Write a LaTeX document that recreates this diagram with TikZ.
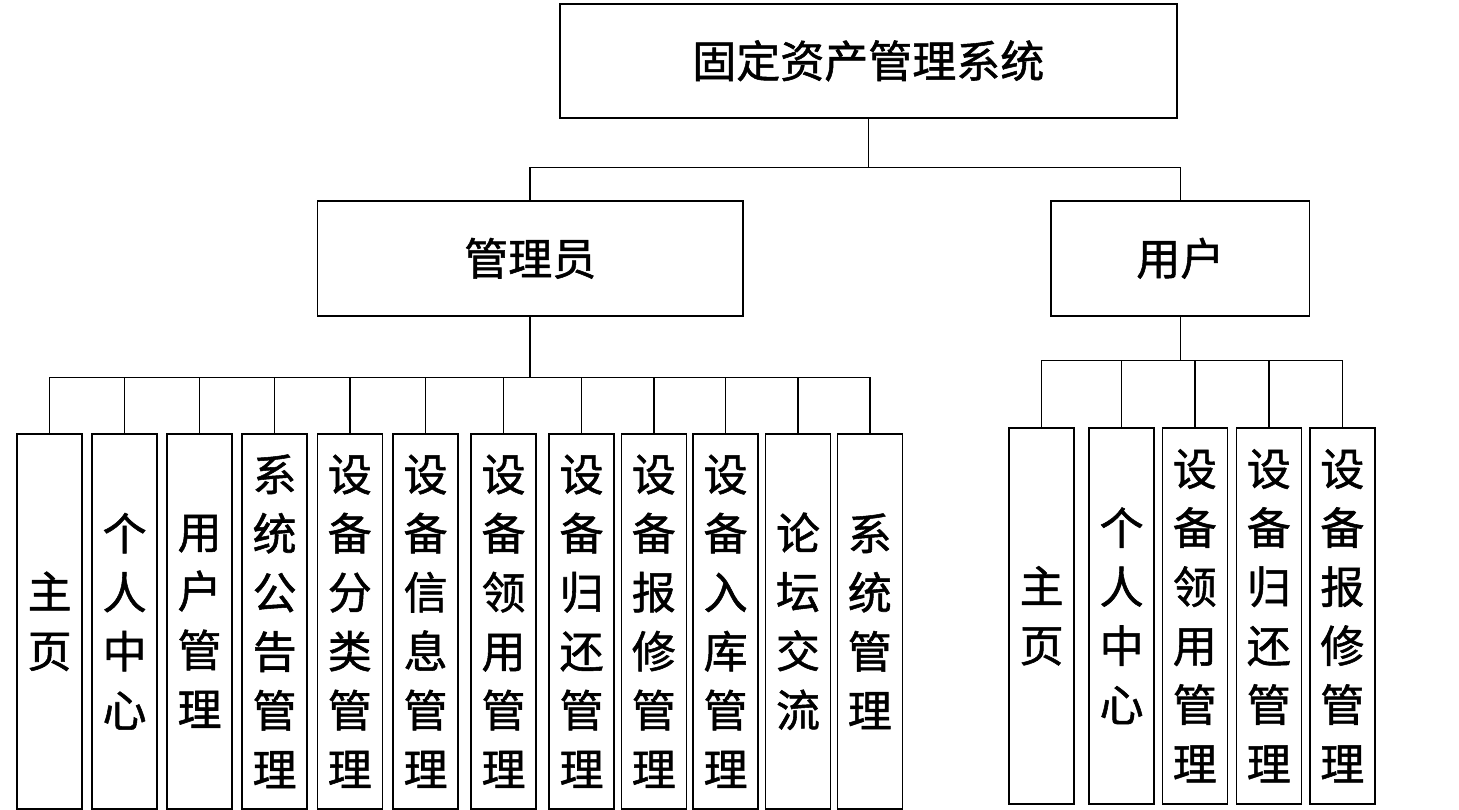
\documentclass[tikz,border=0pt]{standalone}
\usepackage{fontspec}
\newfontfamily\cjk[FakeBold=1.2]{Noto Sans CJK SC}
\tikzset{
  box/.style={draw=black, line width=1.6pt, inner sep=0pt, anchor=north west, fill=white},
  big/.style={font=\cjk\fontsize{44}{59}\selectfont},
  leaf/.style={box, big, minimum width=65pt, align=center},
  conn/.style={line width=1.6pt, black},
}
\newcommand{\aleaf}[4]{\node[leaf, minimum height=375pt] (#1) at (#2,433) {#4};}
\newcommand{\uleaf}[4]{\node[leaf, minimum height=376pt] (#1) at (#2,427) {#4};}
\begin{document}
\begin{tikzpicture}[x=1pt,y=-1pt]
\useasboundingbox (0,0) rectangle (1459,810);
\node[box, big, minimum width=617pt, minimum height=114pt] (top) at (559,3) {固定资产管理系统};
\node[box, big, minimum width=425.5pt, minimum height=115pt] (adm) at (316.7,200) {管理员};
\node[box, big, minimum width=258.5pt, minimum height=115pt] (usr) at (1050.3,200) {用户};

\aleaf{a1}{16.3}{}{主\\页}
\aleaf{a2}{91.3}{}{个\\人\\中\\心}
\aleaf{a3}{166.3}{}{用\\户\\管\\理}
\aleaf{a4}{241.3}{}{系\\统\\公\\告\\管\\理}
\aleaf{a5}{316.5}{}{设\\备\\分\\类\\管\\理}
\aleaf{a6}{392.3}{}{设\\备\\信\\息\\管\\理}
\aleaf{a7}{470.3}{}{设\\备\\领\\用\\管\\理}
\aleaf{a8}{548.3}{}{设\\备\\归\\还\\管\\理}
\aleaf{a9}{620.5}{}{设\\备\\报\\修\\管\\理}
\aleaf{a10}{692.3}{}{设\\备\\入\\库\\管\\理}
\aleaf{a11}{764.7}{}{论\\坛\\交\\流}
\aleaf{a12}{836.5}{}{系\\统\\管\\理}

\uleaf{u1}{1008.3}{}{主\\页}
\uleaf{u2}{1088.3}{}{个\\人\\中\\心}
\uleaf{u3}{1161.5}{}{设\\备\\领\\用\\管\\理}
\uleaf{u4}{1235.5}{}{设\\备\\归\\还\\管\\理}
\uleaf{u5}{1309}{}{设\\备\\报\\修\\管\\理}

\coordinate (j0) at ([yshift=-49pt]top.south);
\draw[conn] (top.south) -- (j0);
\draw[conn] (j0) -| (adm.north);
\draw[conn] (j0) -| (usr.north);

\coordinate (ja) at ([yshift=-61pt]adm.south);
\draw[conn] (adm.south) -- (ja);
\foreach \n in {a1,a2,a3,a4,a5,a6,a7,a8,a9,a10,a11,a12}{
  \draw[conn] (ja) -| (\n.north);
}
\coordinate (ju) at ([yshift=-44pt]usr.south);
\draw[conn] (usr.south) -- (ju);
\foreach \n in {u1,u2,u3,u4,u5}{
  \draw[conn] (ju) -| (\n.north);
}
\end{tikzpicture}
\end{document}
